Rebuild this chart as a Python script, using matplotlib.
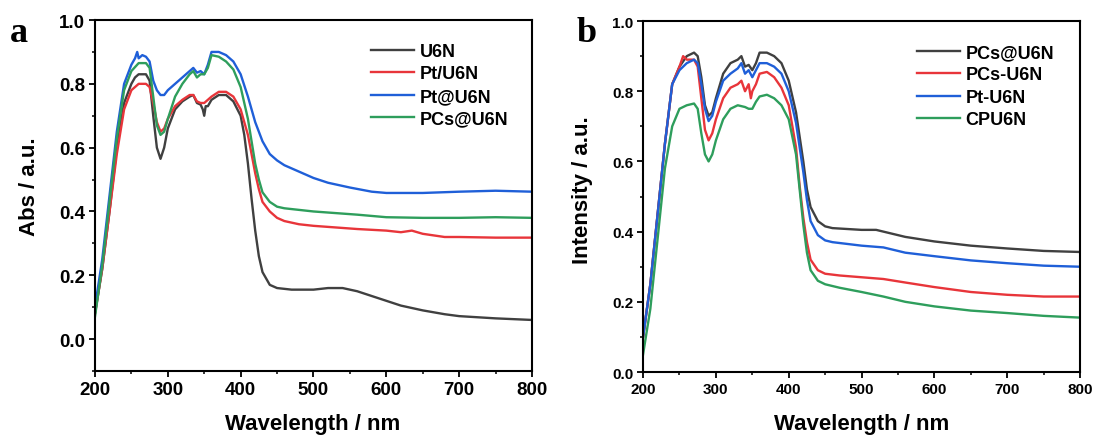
import matplotlib
matplotlib.use("Agg")
import matplotlib.pyplot as plt
from matplotlib.ticker import MultipleLocator

plt.rcParams['font.family'] = ['Liberation Sans', 'DejaVu Sans']
plt.rcParams['font.weight'] = 'bold'

# ---- panel a: absorbance ----
wl_a_u6n = [200, 210, 220, 230, 240, 250, 255, 260, 265, 270, 275, 280, 285, 290, 295, 300, 310, 320, 330, 335,
            340, 345, 348, 350, 352, 355, 360, 370, 380, 390, 400, 405, 410, 415, 420, 425, 430, 440, 450, 470,
            500, 520, 540, 560, 580, 600, 620, 650, 680, 700, 750, 800]
abs_u6n = [0.08, 0.22, 0.40, 0.60, 0.74, 0.80, 0.82, 0.83, 0.83, 0.83, 0.81, 0.70, 0.60, 0.565, 0.60, 0.66, 0.72,
           0.745, 0.76, 0.765, 0.74, 0.735, 0.72, 0.70, 0.73, 0.73, 0.75, 0.765, 0.765, 0.745, 0.70, 0.64, 0.55,
           0.44, 0.34, 0.26, 0.21, 0.17, 0.16, 0.155, 0.155, 0.16, 0.16, 0.15, 0.135, 0.12, 0.105, 0.09, 0.078,
           0.072, 0.065, 0.06]

wl_a_pt = [200, 210, 220, 230, 240, 250, 260, 270, 275, 280, 285, 290, 295, 300, 310, 320, 330, 335, 340, 345,
           350, 355, 360, 370, 380, 390, 400, 410, 415, 420, 425, 430, 440, 450, 460, 480, 500, 530, 560, 600,
           620, 635, 650, 680, 700, 750, 800]
abs_pt = [0.08, 0.22, 0.40, 0.58, 0.72, 0.78, 0.80, 0.80, 0.79, 0.74, 0.68, 0.65, 0.66, 0.69, 0.73, 0.75, 0.765,
          0.765, 0.745, 0.74, 0.74, 0.75, 0.76, 0.775, 0.775, 0.76, 0.72, 0.64, 0.58, 0.52, 0.47, 0.43, 0.40,
          0.38, 0.37, 0.36, 0.355, 0.35, 0.345, 0.34, 0.335, 0.34, 0.33, 0.32, 0.32, 0.318, 0.318]

wl_a_ptat = [200, 210, 220, 230, 240, 250, 255, 258, 260, 265, 270, 275, 280, 285, 290, 295, 300, 310, 320, 330,
             335, 340, 345, 350, 355, 360, 370, 380, 390, 400, 410, 420, 430, 440, 450, 460, 480, 500, 520, 550,
             580, 600, 650, 700, 750, 800]
abs_ptat = [0.10, 0.25, 0.45, 0.65, 0.80, 0.86, 0.88, 0.90, 0.88, 0.89, 0.885, 0.87, 0.81, 0.78, 0.765, 0.765,
            0.78, 0.80, 0.82, 0.84, 0.85, 0.835, 0.84, 0.83, 0.86, 0.90, 0.90, 0.89, 0.87, 0.83, 0.76, 0.68, 0.62,
            0.58, 0.56, 0.545, 0.525, 0.505, 0.49, 0.475, 0.462, 0.458, 0.458, 0.462, 0.465, 0.462]

wl_a_pcs = [200, 210, 220, 230, 240, 250, 260, 270, 275, 280, 285, 290, 295, 300, 310, 320, 330, 335, 340, 345,
            350, 355, 360, 370, 380, 390, 400, 410, 415, 420, 425, 430, 440, 450, 460, 480, 500, 530, 560, 600,
            650, 700, 750, 800]
abs_pcs = [0.07, 0.23, 0.43, 0.63, 0.78, 0.84, 0.865, 0.865, 0.85, 0.76, 0.67, 0.64, 0.65, 0.69, 0.76, 0.80,
           0.83, 0.84, 0.82, 0.83, 0.83, 0.85, 0.89, 0.885, 0.87, 0.845, 0.79, 0.69, 0.62, 0.55, 0.50, 0.46,
           0.43, 0.415, 0.41, 0.405, 0.40, 0.395, 0.39, 0.382, 0.38, 0.38, 0.382, 0.38]

# ---- panel b: intensity ----
wl_b_pcsat = [200, 210, 220, 230, 240, 250, 260, 270, 275, 280, 285, 290, 295, 300, 310, 320, 330, 335, 340, 345,
              350, 355, 360, 370, 380, 390, 400, 410, 420, 425, 430, 440, 450, 460, 500, 520, 540, 560, 600, 650,
              700, 750, 800]
int_pcsat = [0.10, 0.25, 0.45, 0.65, 0.82, 0.87, 0.90, 0.91, 0.90, 0.84, 0.76, 0.73, 0.74, 0.78, 0.85, 0.88,
             0.89, 0.90, 0.87, 0.875, 0.86, 0.88, 0.91, 0.91, 0.90, 0.88, 0.83, 0.74, 0.60, 0.52, 0.47, 0.43,
             0.415, 0.41, 0.405, 0.405, 0.395, 0.385, 0.372, 0.36, 0.352, 0.345, 0.342]

wl_b_pcsdash = [200, 210, 220, 230, 240, 250, 255, 260, 270, 275, 280, 285, 290, 295, 300, 310, 320, 330, 335,
                340, 345, 348, 350, 355, 360, 370, 380, 390, 400, 410, 415, 420, 425, 430, 440, 450, 470, 500,
                530, 560, 600, 650, 700, 750, 800]
int_pcsdash = [0.10, 0.25, 0.45, 0.65, 0.82, 0.87, 0.90, 0.89, 0.89, 0.87, 0.78, 0.69, 0.66, 0.68, 0.72, 0.78,
               0.81, 0.82, 0.83, 0.80, 0.82, 0.78, 0.80, 0.82, 0.85, 0.855, 0.84, 0.81, 0.76, 0.64, 0.53, 0.44,
               0.37, 0.32, 0.29, 0.28, 0.275, 0.27, 0.265, 0.255, 0.242, 0.228, 0.22, 0.215, 0.215]

wl_b_ptdash = [200, 210, 220, 230, 240, 250, 260, 270, 275, 280, 285, 290, 295, 300, 310, 320, 330, 335, 340,
               345, 350, 355, 360, 370, 380, 390, 400, 410, 420, 425, 430, 440, 450, 460, 500, 530, 560, 600,
               650, 700, 750, 800]
int_ptdash = [0.10, 0.25, 0.45, 0.65, 0.82, 0.86, 0.88, 0.89, 0.88, 0.82, 0.75, 0.715, 0.73, 0.77, 0.83, 0.85,
              0.865, 0.88, 0.85, 0.86, 0.84, 0.86, 0.88, 0.88, 0.87, 0.85, 0.80, 0.71, 0.57, 0.49, 0.43, 0.39,
              0.375, 0.37, 0.36, 0.355, 0.34, 0.33, 0.318, 0.31, 0.303, 0.30]

wl_b_cpu = [200, 210, 220, 230, 240, 250, 260, 270, 275, 280, 285, 290, 295, 300, 310, 320, 330, 340, 345, 350,
            355, 360, 370, 380, 390, 400, 410, 415, 420, 425, 430, 440, 450, 470, 500, 530, 560, 600, 650, 700,
            750, 800]
int_cpu = [0.05, 0.18, 0.38, 0.58, 0.70, 0.75, 0.76, 0.765, 0.75, 0.68, 0.62, 0.60, 0.62, 0.66, 0.72, 0.75,
           0.76, 0.755, 0.75, 0.75, 0.77, 0.785, 0.79, 0.78, 0.76, 0.72, 0.62, 0.52, 0.42, 0.34, 0.29, 0.26,
           0.25, 0.24, 0.228, 0.215, 0.20, 0.187, 0.175, 0.168, 0.16, 0.155]

c_black = '#404040'
c_red = '#e8353a'
c_blue = '#1f5fd8'
c_green = '#2e9e5c'


def style_axes(ax, tick_size):
    ax.set_xlim(200, 800)
    ax.xaxis.set_major_locator(MultipleLocator(100))
    ax.xaxis.set_minor_locator(MultipleLocator(50))
    ax.yaxis.set_major_locator(MultipleLocator(0.2))
    ax.yaxis.set_minor_locator(MultipleLocator(0.1))
    ax.tick_params(which='major', direction='out', length=4, width=1.3, labelsize=tick_size, pad=3)
    ax.tick_params(which='minor', direction='out', length=2.5, width=1.1)
    for lab in ax.get_xticklabels() + ax.get_yticklabels():
        lab.set_fontweight('bold')
    for sp in ax.spines.values():
        sp.set_linewidth(1.5)


fig = plt.figure(figsize=(10.94, 4.39), dpi=100)

ax1 = fig.add_axes([0.0868, 0.1526, 0.3995, 0.7995])
ax1.plot(wl_a_u6n, abs_u6n, color=c_black, lw=1.7, label='U6N')
ax1.plot(wl_a_pt, abs_pt, color=c_red, lw=1.7, label='Pt/U6N')
ax1.plot(wl_a_ptat, abs_ptat, color=c_blue, lw=1.7, label='Pt@U6N')
ax1.plot(wl_a_pcs, abs_pcs, color=c_green, lw=1.7, label='PCs@U6N')
ax1.set_ylim(-0.1, 1.0)
style_axes(ax1, 13.5)
ax1.set_yticks([0.0, 0.2, 0.4, 0.6, 0.8, 1.0])
ax1.set_yticklabels(['0.0', '0.2', '0.4', '0.6', '0.8', '1.0'], fontweight='bold')
ax1.legend(loc='upper left', bbox_to_anchor=(0.615, 0.955), frameon=False, fontsize=13,
           handlelength=2.4, handletextpad=0.3, labelspacing=0.3, borderaxespad=0)

ax2 = fig.add_axes([0.5878, 0.1503, 0.3995, 0.7995])
ax2.plot(wl_b_pcsat, int_pcsat, color=c_black, lw=1.7, label='PCs@U6N')
ax2.plot(wl_b_pcsdash, int_pcsdash, color=c_red, lw=1.7, label='PCs-U6N')
ax2.plot(wl_b_ptdash, int_ptdash, color=c_blue, lw=1.7, label='Pt-U6N')
ax2.plot(wl_b_cpu, int_cpu, color=c_green, lw=1.7, label='CPU6N')
ax2.set_ylim(0, 1.0)
style_axes(ax2, 11)
ax2.legend(loc='upper left', bbox_to_anchor=(0.61, 0.955), frameon=False, fontsize=13,
           handlelength=2.4, handletextpad=0.3, labelspacing=0.3, borderaxespad=0)

# axis titles and panel letters
fig.text(0.286, 0.02, 'Wavelength / nm', ha='center', va='baseline', fontsize=16, fontweight='bold')
fig.text(0.788, 0.02, 'Wavelength / nm', ha='center', va='baseline', fontsize=16, fontweight='bold')
fig.text(0.027, 0.574, 'Abs / a.u.', ha='center', va='center', rotation=90, fontsize=16, fontweight='bold')
fig.text(0.532, 0.568, 'Intensity / a.u.', ha='center', va='center', rotation=90, fontsize=16,
         fontweight='bold')
fig.text(0.009, 0.905, 'a', fontsize=26, fontweight='bold', family='Liberation Serif')
fig.text(0.527, 0.905, 'b', fontsize=26, fontweight='bold', family='Liberation Serif')

fig.savefig('out.png', dpi=100)
